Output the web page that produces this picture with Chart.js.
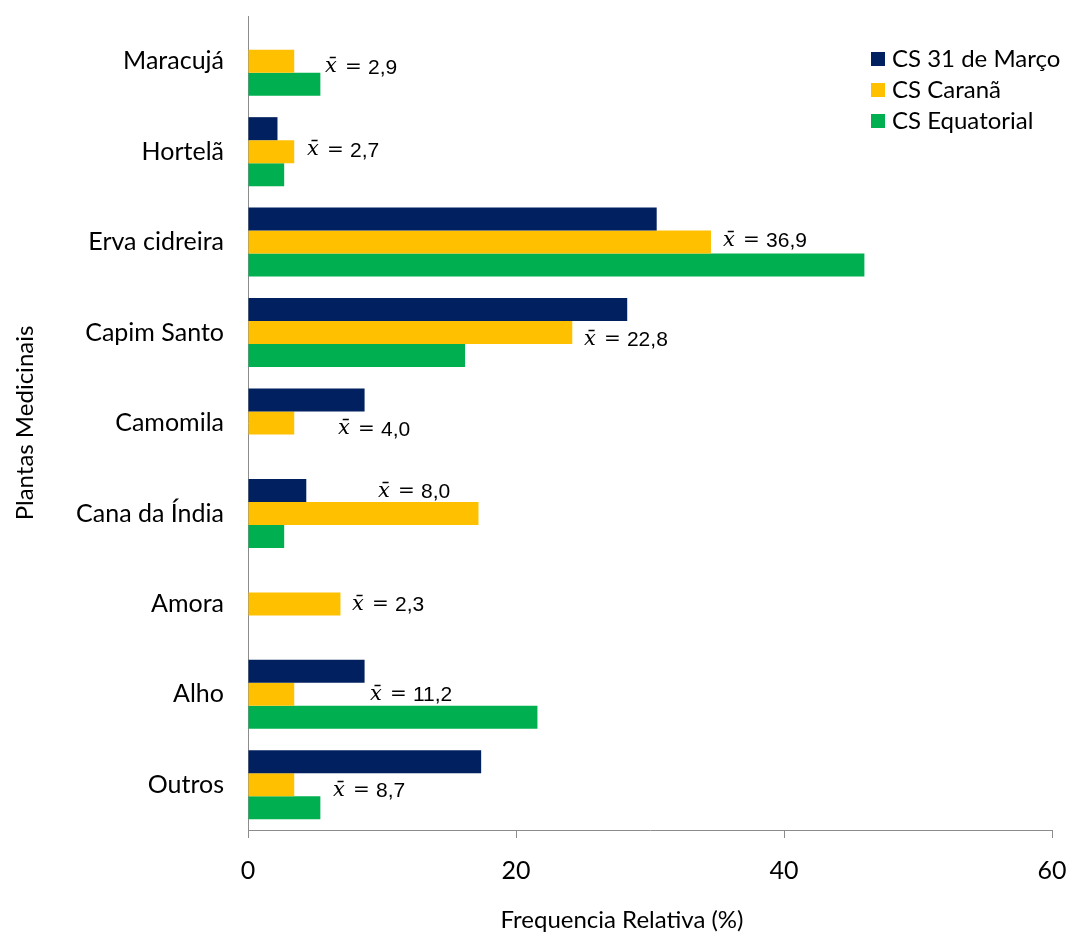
<!DOCTYPE html>
<html>
<head>
<meta charset="utf-8">
<script src="https://cdn.jsdelivr.net/npm/chart.js@4/dist/chart.umd.min.js"></script>
<style>
  html, body { margin: 0; padding: 0; background: #fff; }
  #wrap { width: 1068px; height: 935px; position: relative; }
</style>
</head>
<body>
<div id="wrap"><canvas id="c"></canvas></div>
<script>
// Plantas medicinais citadas por unidade de saúde (frequência relativa, %)
const categories = ['Maracujá', 'Hortelã', 'Erva cidreira', 'Capim Santo', 'Camomila',
  'Cana da Índia', 'Amora', 'Alho', 'Outros'];
const cs31Marco    = [0, 2.2, 30.5, 28.3, 8.7, 4.35, 0, 8.7, 17.4];
const csCarana     = [3.45, 3.45, 34.55, 24.2, 3.45, 17.2, 6.9, 3.45, 3.45];
const csEquatorial = [5.4, 2.7, 46.0, 16.2, 0, 2.7, 0, 21.6, 5.4];
const means = [2.9, 2.7, 36.9, 22.8, 4.0, 8.0, 2.3, 11.2, 8.7];
const xTicks = [0, 20, 40, 60];

// where each mean label sits: [x in axis units, vertical shift in fractions of a category band]
const meanLabelPos = [
  [5.75, 0.075], [4.4, -0.01], [35.45, -0.01], [25.07, 0.085], [6.72, 0.075],
  [9.7, -0.235], [7.76, 0.015], [9.1, 0.01], [6.34, 0.07]
];

const AXIS = '#8c8c8c';
const LABEL_FONT = 'Lato, "Open Sans", sans-serif';

const meanLabels = {
  id: 'meanLabels',
  afterDatasetsDraw(chart) {
    const {ctx, scales: {x, y}} = chart;
    const band = Math.abs(y.getPixelForValue(1) - y.getPixelForValue(0));
    ctx.save();
    ctx.fillStyle = '#000';
    ctx.textBaseline = 'middle';
    ctx.textAlign = 'left';
    means.forEach((m, i) => {
      const [vx, dy] = meanLabelPos[i];
      const px = x.getPixelForValue(vx);
      const py = y.getPixelForValue(i) + dy * band;
      ctx.font = 'italic 21px "DejaVu Serif", serif';
      ctx.fillText('x\u0304', px, py - 1);
      ctx.font = '20px "DejaVu Serif", serif';
      ctx.fillText('=', px + 20, py);
      ctx.font = '21px "Liberation Sans", Arial, sans-serif';
      ctx.fillText(m.toFixed(1).replace('.', ','), px + 43, py);
    });
    ctx.restore();
  }
};

const sideLegend = {
  id: 'sideLegend',
  afterDraw(chart) {
    const {ctx} = chart;
    ctx.save();
    ctx.font = '24px ' + LABEL_FONT;
    ctx.textBaseline = 'middle';
    ctx.textAlign = 'left';
    chart.data.datasets.forEach((ds, i) => {
      const cy = 59 + i * 31;
      ctx.fillStyle = ds.backgroundColor;
      ctx.fillRect(871, cy - 7, 14, 14);
      ctx.fillStyle = '#000';
      ctx.fillText(ds.label, 892, cy);
    });
    ctx.restore();
  }
};

const axisTitles = {
  id: 'axisTitles',
  afterDraw(chart) {
    const {ctx} = chart;
    ctx.save();
    ctx.fillStyle = '#000';
    ctx.font = '24px ' + LABEL_FONT;
    ctx.textAlign = 'center';
    ctx.textBaseline = 'middle';
    ctx.fillText('Frequencia Relativa (%)', 622, 920);
    ctx.translate(25, 423);
    ctx.rotate(-Math.PI / 2);
    ctx.fillText('Plantas Medicinais', 0, 0);
    ctx.restore();
  }
};

new Chart(document.getElementById('c'), {
  type: 'bar',
  data: {
    labels: categories,
    datasets: [
      { label: 'CS 31 de Março', data: cs31Marco, backgroundColor: '#002060' },
      { label: 'CS Caranã', data: csCarana, backgroundColor: '#FFC000' },
      { label: 'CS Equatorial', data: csEquatorial, backgroundColor: '#00B050' }
    ]
  },
  options: {
    indexAxis: 'y',
    responsive: true,
    maintainAspectRatio: false,
    devicePixelRatio: 1,
    animation: false,
    layout: { padding: { left: 0, top: 16, right: 16, bottom: 0 } },
    datasets: { bar: { categoryPercentage: 0.763, barPercentage: 1, borderWidth: 0 } },
    plugins: { legend: { display: false }, tooltip: { enabled: false } },
    scales: {
      x: {
        min: 0, max: 60,
        afterFit(s) { s.height = 105; s.paddingLeft = 0; s.paddingRight = 0; },
        afterBuildTicks(s) { s.ticks = xTicks.map(v => ({ value: v })); },
        grid: { display: true, drawOnChartArea: false, drawTicks: true, tickLength: 8, color: AXIS, lineWidth: 1 },
        border: { display: true, color: AXIS, width: 1 },
        ticks: { color: '#000', font: { family: LABEL_FONT, size: 25 }, padding: 18, maxRotation: 0 }
      },
      y: {
        afterFit(s) { s.width = 248; s.paddingTop = 0; s.paddingBottom = 0; },
        grid: { display: false },
        border: { display: true, color: AXIS, width: 1 },
        ticks: { color: '#000', font: { family: LABEL_FONT, size: 25 }, padding: 16 }
      }
    }
  },
  plugins: [meanLabels, sideLegend, axisTitles]
});
</script>
</body>
</html>
